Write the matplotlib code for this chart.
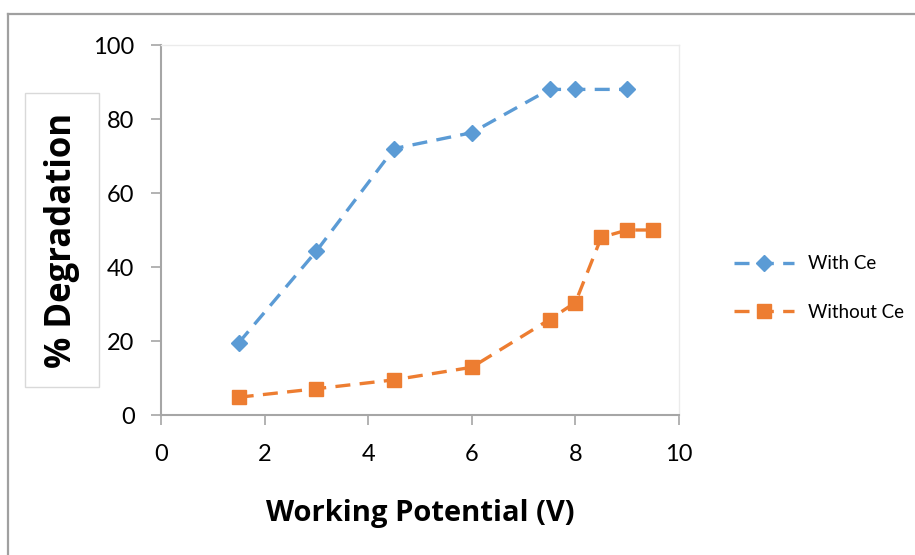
import matplotlib
matplotlib.use("Agg")
import matplotlib.pyplot as plt
from matplotlib.lines import Line2D

# data
x_with = [1.5, 3, 4.5, 6, 7.5, 8, 9]
y_with = [19.5, 44.3, 72, 76.3, 88, 88, 88]
x_without = [1.5, 3, 4.5, 6, 7.5, 8, 8.5, 9, 9.5]
y_without = [4.8, 7.1, 9.5, 12.9, 25.8, 30.4, 48, 50, 50]
labels = ["With Ce", "Without Ce"]
xticks = [0, 2, 4, 6, 8, 10]
yticks = [0, 20, 40, 60, 80, 100]

blue = "#5B9BD5"
orange = "#ED7D31"
axis_grey = "#A6A6A6"

plt.rcParams['font.family'] = ['Lato', 'DejaVu Sans']

fig = plt.figure(figsize=(9.15, 5.55), dpi=100)
ax = fig.add_axes([161/915, 1-415/555, (679-161)/915, (415-45)/555])

ax.plot(x_with, y_with, color=blue, lw=2.4, ls=(0, (4.5, 2.8)), marker="D",
        ms=8.5, label=labels[0])
ax.plot(x_without, y_without, color=orange, lw=2.4, ls=(0, (4.5, 2.8)), marker="s",
        ms=9.5, label=labels[1])

ax.set_xlim(0, 10)
ax.set_ylim(0, 100)
ax.set_xticks(xticks)
ax.set_yticks(yticks)
ax.tick_params(labelsize=17, color=axis_grey, length=7, width=1.2)
ax.tick_params(axis="y", pad=12)
ax.tick_params(axis="x", pad=14)

for s in ["left", "bottom"]:
    ax.spines[s].set_color(axis_grey)
    ax.spines[s].set_linewidth(1.5)
for s in ["top", "right"]:
    ax.spines[s].set_color("#EBEBEB")
    ax.spines[s].set_linewidth(1)

ax.set_xlabel("Working Potential (V)", fontsize=21, fontweight="bold",
              family="Open Sans", labelpad=24)

fig.text(62/915, 1-240/555, "% Degradation", rotation=90, ha="center", va="center",
         fontsize=25, fontweight="bold", family="Open Sans",
         bbox=dict(boxstyle="square,pad=0.55", fc="white", ec="#D9D9D9", lw=1))

fig.legend(loc="center left", bbox_to_anchor=(717/915, 1-288/555), frameon=False,
           fontsize=13.5, handlelength=3.2, labelspacing=1.7, numpoints=1,
           handletextpad=0.75)

# outer chart frame
fig.add_artist(Line2D([8/915, 1], [1-14/555, 1-14/555], color="#A0A0A0", lw=1.6,
                      transform=fig.transFigure))
fig.add_artist(Line2D([8/915, 8/915], [0, 1-14/555], color="#A0A0A0", lw=1.6,
                      transform=fig.transFigure))

fig.savefig("out.png", dpi=100)
